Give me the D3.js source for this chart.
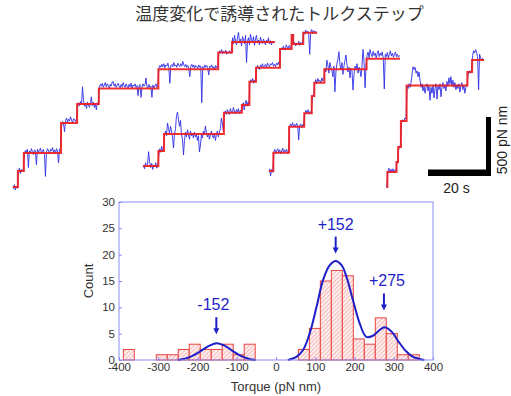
<!DOCTYPE html>
<html><head><meta charset="utf-8">
<script src="https://cdn.jsdelivr.net/npm/d3@7"></script>
<style>body{margin:0;background:#fff}svg{display:block}</style>
</head><body>
<svg id="c" width="511" height="396"></svg>
<script>
// ---------- data ----------
const title = "温度変化で誘導されたトルクステップ";

// top panel: time (s), torque (pN nm)
const trace1Times = [0.9, 2.5, 4.4, 16.2, 21.3, 28.2, 47.1, 66.1, 70.5, 84.1];
const trace1Levels = [25, 161, 314, 568, 729, 860, 1023, 1165, 1254];
const trace1Blue = [
  [10, 45, 0, 30, 15],
  [150, 185, 140, 175, 160, 180],
  [300, 335, 320, 345, 190, 330, 310, 350, 325, 300, 340, 330, 215, 345, 320, 335, 355, 310, 330, 345, 300, 115, 320, 350, 335, 310, 345, 330, 360, 320, 340, 315, 350, 330, 230, 345, 360],
  [540, 580, 560, 495, 590, 610, 575, 600, 585, 620, 590, 570, 605, 595, 580, 610],
  [700, 740, 715, 750, 730, 875, 760, 710, 735, 690, 745, 720, 700, 740, 790, 715, 745, 700, 730, 680, 740, 720],
  [870, 895, 880, 905, 870, 890, 910, 875, 900, 885, 865, 895, 880, 915, 920, 880, 900, 870, 890, 905,
   880, 860, 895, 875, 910, 885, 870, 900, 880, 865, 895, 875, 905, 860, 890, 880, 900, 870, 885, 800,
   880, 895, 785, 870, 900, 880, 890, 950, 875, 860, 895, 870, 880, 785, 890, 865, 880, 900, 870, 885],
  [1030, 1055, 1040, 1065, 1045, 1070, 1035, 1060, 1050, 1075, 1040, 905, 1055, 1065, 1045, 1080, 1050, 1060, 1040, 1075,
   1055, 1045, 1070, 1050, 1090, 1060, 1045, 1065, 1040, 1055, 1030, 960, 1050, 1065, 1040, 1060, 1035, 1055, 1045, 1030,
   1060, 1040, 1050, 740, 1045, 1030, 1060, 1040, 1055, 1035, 975, 1050, 1040, 1060, 1030, 1045, 1020, 1055, 1035, 1045],
  [1150, 1180, 1165, 1190, 1155, 1175, 1160, 1185, 1150, 1170, 1160, 1180, 1155, 1170],
  [1290, 1240, 1310, 1260, 1230, 1300, 1335, 1250, 1280, 1220, 1300, 1270, 1240, 1310, 1080, 1260, 1290, 1230, 1320, 1270,
   1250, 1300, 1225, 1280, 1310, 1245, 1270, 1230, 1295, 1260, 1240, 1280, 1255, 1230, 1270, 1250, 1290, 1240, 1265, 1230,
   1260, 1245, 1255]
];

const trace2Times = [42.2, 47.1, 48.9, 67.9, 73.6, 76.0, 78.1, 85.7, 89.4, 89.9, 93.1, 97.5];
const trace2Levels = [203, 331, 475, 655, 720, 918, 1036, 1195, 1314, 1237, 1333];
const trace2Blue = [
  [210, 180, 230, 195, 215, 325, 240, 190, 225, 175, 210, 200, 230, 185, 205],
  [300, 350, 320, 370, 330, 345],
  [470, 500, 460, 568, 520, 480, 540, 500, 450, 356, 470, 520, 630, 660, 600, 540, 590, 470, 430, 297,
   420, 490, 450, 510, 470, 430, 500, 460, 480, 440, 490, 450, 470, 420, 460, 322, 380, 470, 440, 500,
   470, 543, 490, 450, 480, 430, 470, 500, 460, 440, 480, 420, 470, 500, 450, 490, 520, 610, 560, 500],
  [650, 670, 640, 680, 660, 640, 690, 665, 650, 700, 670, 645, 680, 660, 690, 650, 675, 665],
  [700, 740, 678, 730, 760, 710, 745, 725],
  [900, 935, 915, 945, 905, 930, 920],
  [1030, 1055, 1040, 1020, 1060, 1045, 1070, 1035, 1050, 1065, 1040, 1075, 1055, 1045, 1070, 1060, 1080, 1050, 1065, 1045, 1075, 1060, 1085, 1055],
  [1180, 1205, 1190, 1220, 1200, 1185, 1230, 1210, 1195, 1225, 1205, 1215],
  [1300, 1320],
  [1230, 1250, 1220, 1245, 1235, 1260, 1225, 1250, 1240, 1265],
  [1340, 1320, 1355, 1330, 1345, 1320, 1150, 1335, 1360, 1325, 1350, 1335, 1345, 1325]
];

const trace3Times = [82.2, 83.6, 88.6, 93.4, 95.8, 96.6, 99.8, 113.2, 123.8];
const trace3Levels = [161, 316, 536, 650, 797, 909, 1023, 1113];
const trace3Blue = [
  [180, 120, 175, 150],
  [320, 345, 310, 335, 350, 320, 340, 305, 330, 355, 315, 340, 325, 345, 310, 330],
  [530, 560, 545, 570, 535, 555, 540, 565, 550, 424, 545, 560, 530, 555, 540],
  [640, 675, 655, 680, 645, 665, 650],
  [770, 800, 820],
  [910, 935, 900, 945, 920, 930, 905, 950, 925, 940],
  [1030, 1000, 1100, 1060, 990, 1080, 1040, 1010, 960, 1050, 833, 1000, 1070, 1110, 1172, 1060, 1020, 1080, 980, 1050,
   1100, 1144, 1060, 1000, 1040, 950, 1030, 1010, 847, 980, 1050, 1020, 1070, 990, 1040, 1010, 960, 1060, 1192, 1080,
   867, 1060],
  [1140, 1170, 1120, 1190, 1150, 1130, 1175, 1140, 1160, 1120, 1155, 1180, 1130, 1160, 1140, 1170, 1110, 856, 1150, 1130,
   1165, 1120, 1150, 1180, 1135, 1160, 1125, 1145, 1170, 1130, 1150, 1125, 1140]
];

const trace4Times = [119.5, 119.8, 122.7, 123.2, 124.1, 125.9, 145.2, 146.7, 150.5];
const trace4Levels = [25, 153, 237, 364, 585, 886, 1000, 1102];
const trace4Blue = [
  [20, 60],
  [160, 185, 145, 175, 155, 180, 150, 170, 165],
  [240, 230],
  [340, 360, 385],
  [570, 595, 580, 610, 600],
  [880, 860, 900, 870, 910, 980, 1045, 1020, 1040, 990, 1010, 960, 1000, 930, 870, 900, 840, 880, 820, 870,
   900, 840, 880, 760, 870, 820, 890, 780, 860, 900, 770, 880, 850, 900, 790, 870, 910, 860, 890, 840,
   920, 880, 950, 900, 960, 880, 930, 870, 910, 850, 890, 860, 900, 830, 880, 910, 850, 890, 820, 870,
   880],
  [970, 1010, 990, 1020],
  [1140, 1180, 1160, 1190, 1170, 1130, 850, 1150, 1120, 1100, 1115, 1095]
];

const scaleBarTime = 20;      // s
const scaleBarTorque = 500;   // pN nm
const scaleBarTimeLabel = "20 s";
const scaleBarTorqueLabel = "500 pN nm";

// histogram
const binStarts = [-389, -305, -277, -249, -221, -193, -165, -137, -109, -81, 57, 85, 113, 141, 169, 197, 225, 253, 281, 309, 337];
const binCounts = [2, 1, 1, 2, 3, 2, 2, 3, 1, 3, 2, 6, 15, 17, 16, 4, 3, 8, 5, 1, 1];
const binWidth = 28;

const fitNegX = [-250, -225, -200, -175, -152, -130, -110, -90, -70, -52];
const fitNegY = [0, 0.4, 1.3, 2.5, 3.2, 2.7, 1.7, 0.8, 0.25, 0];
const fitPosX = [30, 52, 69, 86, 103, 120, 137, 152, 167, 180, 196, 213, 230, 247, 264, 277, 294, 315, 332, 349, 366, 378];
const fitPosY = [0, 0.6, 1.9, 5.1, 10, 15.2, 18, 18.8, 18, 15.7, 11.4, 7, 4.4, 4.6, 5.7, 6.2, 5.4, 3.2, 1.6, 0.6, 0.2, 0];

const peakLabels = ["-152", "+152", "+275"];
const peakX = [-152, 152, 275];
const peakArrowTip = [4.9, 20.2, 9.4];

const xTicks = [-400, -300, -200, -100, 0, 100, 200, 300, 400];
const yTicks = [0, 5, 10, 15, 20, 25, 30];
const xTitle = "Torque (pN nm)";
const yTitle = "Count";

// ---------- drawing ----------
const svg = d3.select("#c");
const FONT = "'Liberation Sans', Arial, sans-serif";
const BLUE = "#2f2fe6";
const RED = "#ee1c1c";

svg.append("text").attr("x", 279.5).attr("y", 20)
  .attr("text-anchor", "middle")
  .attr("font-family", "'Noto Sans CJK JP', sans-serif")
  .attr("font-size", 17).attr("fill", "#333").text(title);

const xT = d3.scaleLinear().domain([0, 160]).range([10, 514]);
const yT = d3.scaleLinear().domain([0, 1500]).range([190, 13]);

function bluePoints(times, segs) {
  const pts = [];
  segs.forEach((vals, i) => {
    const t0 = times[i], t1 = times[i + 1], dt = (t1 - t0) / vals.length;
    vals.forEach((v, k) => pts.push([t0 + (k + 0.5) * dt, v]));
  });
  return pts;
}
function stepPoints(times, levels) {
  const pts = levels.map((l, i) => [times[i], l]);
  pts.push([times[times.length - 1], levels[levels.length - 1]]);
  return pts;
}
const lineT = d3.line().x(d => xT(d[0])).y(d => yT(d[1]));
const stepT = d3.line().x(d => xT(d[0])).y(d => yT(d[1])).curve(d3.curveStepAfter);

const traces = [
  [trace1Times, trace1Levels, trace1Blue],
  [trace2Times, trace2Levels, trace2Blue],
  [trace3Times, trace3Levels, trace3Blue],
  [trace4Times, trace4Levels, trace4Blue]
];
const gT = svg.append("g");
traces.forEach(([tm, lv, bl]) => {
  gT.append("path").attr("d", lineT(bluePoints(tm, bl)))
    .attr("fill", "none").attr("stroke", BLUE).attr("stroke-width", 0.9).attr("stroke-linejoin", "round");
});
traces.forEach(([tm, lv, bl]) => {
  gT.append("path").attr("d", stepT(stepPoints(tm, lv)))
    .attr("fill", "none").attr("stroke", RED).attr("stroke-width", 2).attr("stroke-opacity", 0.9);
});

// scale bar (anchored at its bottom-right corner)
const sbRight = 491, sbBottom = 176;
const sbW = xT(scaleBarTime) - xT(0);
const sbH = yT(0) - yT(scaleBarTorque);
svg.append("rect").attr("x", sbRight - sbW).attr("y", sbBottom - 6.5).attr("width", sbW).attr("height", 6.5).attr("fill", "#000");
svg.append("rect").attr("x", sbRight - 5).attr("y", sbBottom - sbH).attr("width", 5).attr("height", sbH).attr("fill", "#000");
svg.append("text").attr("x", sbRight - sbW / 2 - 3).attr("y", 193).attr("text-anchor", "middle")
  .attr("font-family", FONT).attr("font-size", 14).attr("fill", "#222").text(scaleBarTimeLabel);
svg.append("text").attr("transform", `translate(506.5,${sbBottom - 36}) rotate(-90)`).attr("text-anchor", "middle")
  .attr("font-family", FONT).attr("font-size", 14).attr("fill", "#222").text(scaleBarTorqueLabel);

// ---------- histogram ----------
const xH = d3.scaleLinear().domain([-400, 400]).range([119, 433]);
const yH = d3.scaleLinear().domain([0, 30]).range([360, 202]);

const defs = svg.append("defs");
const pat = defs.append("pattern").attr("id", "hatch").attr("patternUnits", "userSpaceOnUse")
  .attr("width", 3).attr("height", 3).attr("patternTransform", "rotate(45)");
pat.append("rect").attr("width", 3).attr("height", 3).attr("fill", "#fff0f0");
pat.append("line").attr("x1", 0).attr("y1", 0).attr("x2", 0).attr("y2", 3)
  .attr("stroke", "#f08a8a").attr("stroke-width", 1.1);

const gH = svg.append("g");
gH.selectAll("rect.bar").data(binStarts).join("rect").attr("class", "bar")
  .attr("x", d => xH(d)).attr("width", d => xH(d + binWidth) - xH(d))
  .attr("y", (d, i) => yH(binCounts[i])).attr("height", (d, i) => yH(0) - yH(binCounts[i]))
  .attr("fill", "url(#hatch)").attr("stroke", "#e8453f").attr("stroke-width", 1);

const lineH = d3.line().x(d => xH(d[0])).y(d => yH(d[1])).curve(d3.curveCatmullRom);
gH.append("path").attr("d", lineH(fitNegX.map((x, i) => [x, fitNegY[i]])))
  .attr("fill", "none").attr("stroke", "#1e1ec8").attr("stroke-width", 2);
gH.append("path").attr("d", lineH(fitPosX.map((x, i) => [x, fitPosY[i]])))
  .attr("fill", "none").attr("stroke", "#1e1ec8").attr("stroke-width", 2);

// axes
const AX = "#8c8cf0";
const xAxis = d3.axisBottom(xH).tickValues(xTicks).tickFormat(d => String(d)).tickSizeInner(-3).tickSizeOuter(0).tickPadding(3);
const yAxis = d3.axisLeft(yH).tickValues(yTicks).tickFormat(d => String(d)).tickSizeInner(-3).tickSizeOuter(0).tickPadding(4);
const gx = svg.append("g").attr("transform", "translate(0,360)").call(xAxis);
const gy = svg.append("g").attr("transform", "translate(119,0)").call(yAxis);
[gx, gy].forEach(g => {
  g.select(".domain").remove();
  g.selectAll("line").attr("stroke", AX);
  g.selectAll("text").attr("font-family", FONT).attr("font-size", 11.5).attr("fill", "#333");
});
gy.selectAll("text").attr("dy", "0.3em");
svg.append("rect").attr("x", 119).attr("y", 202).attr("width", 314).attr("height", 158)
  .attr("fill", "none").attr("stroke", AX).attr("stroke-width", 1);

svg.append("text").attr("x", 276).attr("y", 391).attr("text-anchor", "middle")
  .attr("font-family", FONT).attr("font-size", 13).attr("fill", "#333").text(xTitle);
svg.append("text").attr("transform", "translate(93,281) rotate(-90)").attr("text-anchor", "middle")
  .attr("font-family", FONT).attr("font-size", 13).attr("fill", "#333").text(yTitle);

// peak annotations
const ANN = "#1e1ec8";
const labelDx = [-3, 0, 3];
peakLabels.forEach((lab, i) => {
  const x = xH(peakX[i]), tip = yH(peakArrowTip[i]);
  svg.append("line").attr("x1", x).attr("x2", x).attr("y1", tip - 17).attr("y2", tip - 5)
    .attr("stroke", ANN).attr("stroke-width", 2);
  svg.append("path").attr("d", `M${x - 3},${tip - 6}L${x + 3},${tip - 6}L${x},${tip}Z`).attr("fill", ANN);
  svg.append("text").attr("x", x + labelDx[i]).attr("y", tip - 24).attr("text-anchor", "middle")
    .attr("font-family", FONT).attr("font-size", 16).attr("fill", ANN).text(lab);
});
</script>
</body></html>
